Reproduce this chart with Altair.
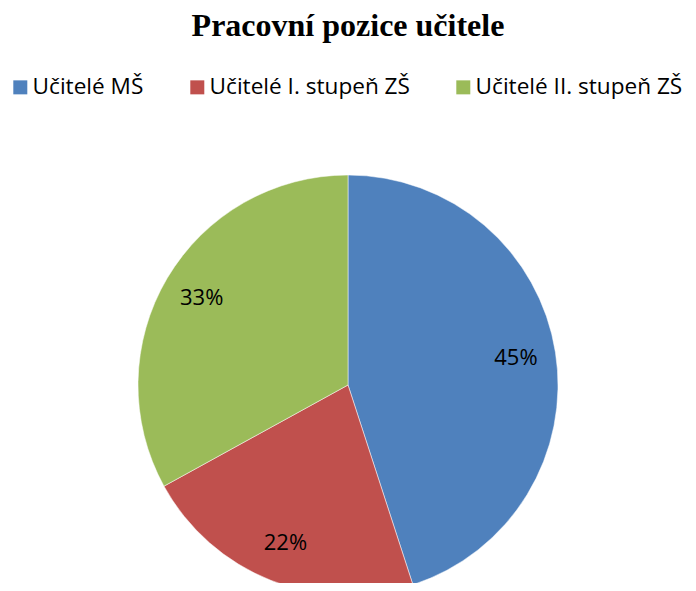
import altair as alt
import pandas as pd

categories = ["Učitelé MŠ", "Učitelé I. stupeň ZŠ", "Učitelé II. stupeň ZŠ"]
shares = [45, 22, 33]
labels = ["45%", "22%", "33%"]
colors = ["#4F81BD", "#C0504D", "#9BBB59"]

df = pd.DataFrame({
    "category": categories,
    "share": shares,
    "label": labels,
    "idx": list(range(len(categories))),
})

cx, cy = 340, 317

base = alt.Chart(df).encode(
    theta=alt.Theta("share:Q", stack=True),
    order=alt.Order("idx:Q"),
)

pie = base.mark_arc(outerRadius=210, stroke="white", strokeWidth=0.5).encode(
    x=alt.value(cx),
    y=alt.value(cy),
    color=alt.Color(
        "category:N",
        scale=alt.Scale(domain=categories, range=colors),
        sort=categories,
        legend=alt.Legend(
            title=None,
            orient="none",
            legendX=1,
            legendY=8,
            direction="horizontal",
            columns=3,
            symbolType="square",
            symbolSize=196,
            symbolStrokeWidth=0,
            symbolOpacity=1,
            labelFont="Open Sans",
            labelFontSize=22.6,
            labelColor="black",
            labelOffset=1,
            columnPadding=42,
            padding=0,
            labelLimit=400,
        ),
    ),
)

text = base.mark_text(radius=170, font="Open Sans", fontSize=22, color="black",
                      align="center", baseline="middle").encode(
    x=alt.value(cx),
    y=alt.value(cy),
    text="label:N",
    detail="category:N",
)

chart = (pie + text).properties(
    width=680,
    height=515,
    autosize=alt.AutoSizeParams(type="none"),
    padding={"left": 0, "right": 0, "top": 60, "bottom": 0},
    title=alt.Title(
        "Pracovní pozice učitele",
        font="Liberation Serif",
        fontSize=32,
        fontWeight="bold",
        color="black",
        anchor="middle",
        frame="group",
        offset=25,
    ),
).configure_view(stroke=None)

chart.save("out.html", embed_options={"renderer": "svg", "actions": False})
